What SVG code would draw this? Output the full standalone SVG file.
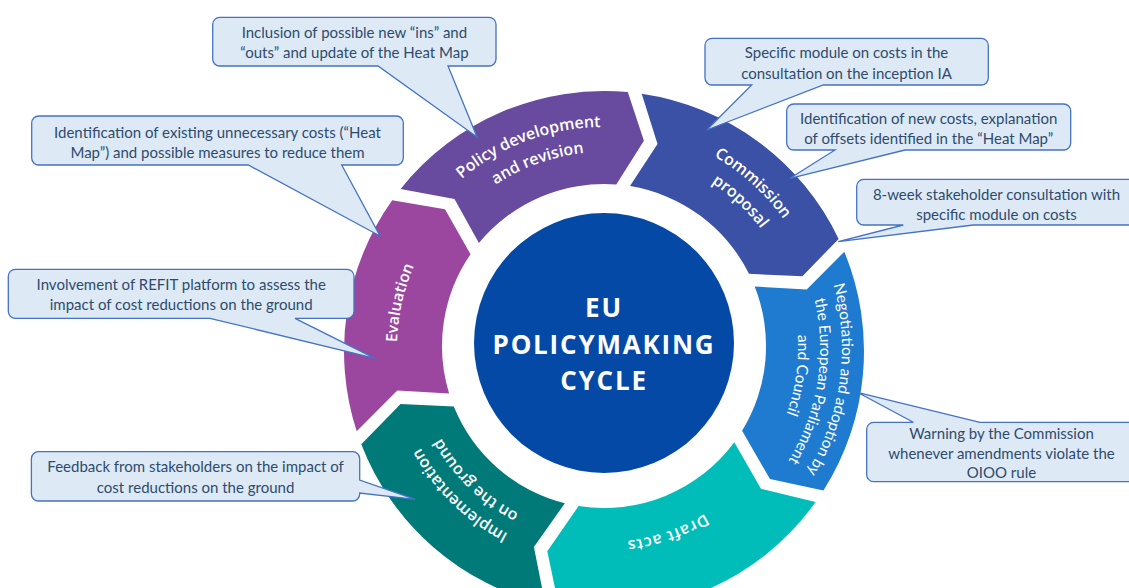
<svg xmlns="http://www.w3.org/2000/svg" width="1129" height="588" viewBox="0 0 1129 588">
<defs>
<style>
.seg-label { font-family: "Open Sans", "Noto Sans", sans-serif; font-weight: 600; font-size: 16px; fill: #ffffff; }
.seg-label.small { font-size: 15.5px; }
.neg-label { font-family: Lato, "Liberation Sans", sans-serif; font-size: 15.5px; fill: #ffffff; }
.bubble { fill: #DDEAF6; stroke: #4472C4; stroke-width: 1.3; }
.callout-text { font-family: Lato, "Liberation Sans", sans-serif; font-size: 15px; fill: #2F4A6D; text-anchor: middle; }
.center-text { font-family: "Open Sans", "Noto Sans", sans-serif; font-weight: 700; font-size: 26px; fill: #ffffff; text-anchor: middle; letter-spacing: 1.8px; }
</style>
<path id="arc-pol1" d="M383.0,349.9 A221,221 0 0 1 772.1,204.5"/>
<path id="arc-pol2" d="M408.0,347.0 A196,196 0 0 1 754.8,222.8"/>
<path id="arc-com1" d="M500.6,152.7 A221,221 0 0 1 808.8,431.1"/>
<path id="arc-com2" d="M514.3,172.6 A197,197 0 0 1 785.5,424.7"/>
<path id="arc-neg1" d="M715.7,137.9 A238,238 0 0 1 653.5,580.8"/>
<path id="arc-neg2" d="M709.4,159.4 A216,216 0 0 1 644.5,560.2"/>
<path id="arc-neg3" d="M695.1,176.7 A194,194 0 0 1 644.3,537.8"/>
<path id="arc-dra" d="M798.0,351.4 A194,194 0 0 1 453.2,470.1"/>
<path id="arc-imp1" d="M694.3,536.5 A209,209 0 0 1 413.7,261.7"/>
<path id="arc-imp2" d="M685.0,515.5 A186,186 0 0 1 434.4,271.8"/>
<path id="arc-eva" d="M492.8,522.6 A207,207 0 0 1 577.0,142.8"/>
</defs>
<rect x="0" y="0" width="1129" height="588" fill="#ffffff"/>

<g id="node-policy">
<path d="M400.6,189.0 A260,260 0 0 1 627.8,92.1 L643.9,140.8 L616.3,184.5 A162,162 0 0 0 478.9,243.1 L454.5,199.1 Z" fill="#684B9E"/>
<text class="seg-label"><textPath href="#arc-pol1" startOffset="50%" text-anchor="middle">Policy development</textPath></text>
<text class="seg-label"><textPath href="#arc-pol2" startOffset="50%" text-anchor="middle">and revision</textPath></text>
</g>

<g id="node-commission">
<path d="M641.7,93.7 A260,260 0 0 1 838.6,238.9 L802.4,276.2 L749.0,273.8 A162,162 0 0 0 630.0,186.1 L657.5,143.9 Z" fill="#3B51A6"/>
<text class="seg-label"><textPath href="#arc-com1" startOffset="50%" text-anchor="middle">Commission</textPath></text>
<text class="seg-label"><textPath href="#arc-com2" startOffset="50%" text-anchor="middle">proposal</textPath></text>
</g>

<g id="node-negotiation">
<path d="M844.3,251.7 A260,260 0 0 1 823.4,490.5 L770.0,479.0 L742.1,430.8 A162,162 0 0 0 754.7,286.5 L806.7,289.5 Z" fill="#1E7BCF"/>
<text class="neg-label"><textPath href="#arc-neg1" startOffset="50%" text-anchor="middle">Negotiation and adoption by</textPath></text>
<text class="neg-label"><textPath href="#arc-neg2" startOffset="50%" text-anchor="middle">the European Parliament</textPath></text>
<text class="neg-label"><textPath href="#arc-neg3" startOffset="50%" text-anchor="middle">and Council</textPath></text>
</g>

<g id="node-draft">
<path d="M815.6,502.1 A260,260 0 0 1 559.0,607.1 L547.3,551.2 L578.6,506.0 A162,162 0 0 0 734.3,442.3 L761.1,488.9 Z" fill="#00BDBA"/>
<text class="seg-label" letter-spacing="0.8"><textPath href="#arc-dra" startOffset="50%" text-anchor="middle">Draft acts</textPath></text>
</g>

<g id="node-implementation">
<path d="M545.3,604.3 A260,260 0 0 1 361.3,444.3 L400.6,404.0 L453.8,406.6 A162,162 0 0 0 564.9,503.2 L533.9,547.0 Z" fill="#007A79"/>
<text class="seg-label"><textPath href="#arc-imp1" startOffset="50%" text-anchor="middle">Implementation</textPath></text>
<text class="seg-label"><textPath href="#arc-imp2" startOffset="50%" text-anchor="middle">on the ground</textPath></text>
</g>

<g id="node-evaluation">
<path d="M356.7,431.2 A260,260 0 0 1 392.2,200.2 L445.0,209.3 L470.5,254.2 A162,162 0 0 0 449.1,393.4 L397.3,390.4 Z" fill="#9B479F"/>
<text class="seg-label small"><textPath href="#arc-eva" startOffset="50%" text-anchor="middle">Evaluation</textPath></text>
</g>

<g id="node-center">
<circle cx="604" cy="343" r="130" fill="#0449A5"/>
<text class="center-text" x="604" y="317">EU</text>
<text class="center-text" x="604" y="354">POLICYMAKING</text>
<text class="center-text" x="604" y="390">CYCLE</text>
</g>

<g id="connectors"></g>

<g id="callout-inclusion">
<path class="bubble" d="M219.7,17.3 H489 A7,7 0 0 1 496,24.3 V59 A7,7 0 0 1 489,66 H448 L477,137 L378,66 H219.7 A7,7 0 0 1 212.7,59 V24.3 A7,7 0 0 1 219.7,17.3 Z"/>
<text class="callout-text" x="354.4" y="37.5">Inclusion of possible new “ins” and</text>
<text class="callout-text" x="354.4" y="58">“outs” and update of the Heat Map</text>
</g>

<g id="callout-specific-module">
<path class="bubble" d="M712,38.3 H981.3 A7,7 0 0 1 988.3,45.3 V78 A7,7 0 0 1 981.3,85 H823.3 L706.7,130 L751.7,85 H712 A7,7 0 0 1 705,78 V45.3 A7,7 0 0 1 712,38.3 Z"/>
<text class="callout-text" x="846.5" y="58">Specific module on costs in the</text>
<text class="callout-text" x="846.5" y="78.5">consultation on the inception IA</text>
</g>

<g id="callout-new-costs">
<path class="bubble" d="M793.7,104 H1063.7 A7,7 0 0 1 1070.7,111 V143 A7,7 0 0 1 1063.7,150 H905 L790,178.3 L835,150 H793.7 A7,7 0 0 1 786.7,143 V111 A7,7 0 0 1 793.7,104 Z"/>
<text class="callout-text" x="928.7" y="123.5">Identification of new costs, explanation</text>
<text class="callout-text" x="928.7" y="143.5">of offsets identified in the “Heat Map”</text>
</g>

<g id="callout-8-week">
<path class="bubble" d="M863.7,179.3 H1129 A7,7 0 0 1 1136,186.3 V218 A7,7 0 0 1 1129,225 H973.3 L838.3,241.7 L903.3,225 H863.7 A7,7 0 0 1 856.7,218 V186.3 A7,7 0 0 1 863.7,179.3 Z"/>
<text class="callout-text" x="996.5" y="199.5">8-week stakeholder consultation with</text>
<text class="callout-text" x="996.5" y="219.5">specific module on costs</text>
</g>

<g id="callout-existing-costs">
<path class="bubble" d="M38.7,116 H396.3 A7,7 0 0 1 403.3,123 V158 A7,7 0 0 1 396.3,165 H341.7 L380,236 L248.3,165 H38.7 A7,7 0 0 1 31.7,158 V123 A7,7 0 0 1 38.7,116 Z"/>
<text class="callout-text" x="217.5" y="138">Identification of existing unnecessary costs (“Heat</text>
<text class="callout-text" x="217.5" y="157.5">Map”) and possible measures to reduce them</text>
</g>

<g id="callout-refit">
<path class="bubble" d="M15.3,269.3 H347 A7,7 0 0 1 354,276.3 V311.3 A7,7 0 0 1 347,318.3 H295 L375,358.3 L210,318.3 H15.3 A7,7 0 0 1 8.3,311.3 V276.3 A7,7 0 0 1 15.3,269.3 Z"/>
<text class="callout-text" x="181.2" y="289.5">Involvement of REFIT platform to assess the</text>
<text class="callout-text" x="181.2" y="309.5">impact of cost reductions on the ground</text>
</g>

<g id="callout-feedback">
<path class="bubble" d="M38.4,451.7 H352.7 A7,7 0 0 1 359.7,458.7 V480 L415.2,499.3 L359.7,493 V494 A7,7 0 0 1 352.7,501 H38.4 A7,7 0 0 1 31.4,494 V458.7 A7,7 0 0 1 38.4,451.7 Z"/>
<text class="callout-text" x="195.6" y="472">Feedback from stakeholders on the impact of</text>
<text class="callout-text" x="195.6" y="492.5">cost reductions on the ground</text>
</g>

<g id="callout-warning">
<path class="bubble" d="M873.7,422.3 H913.3 L858.3,392.7 L980,422.3 H1129 A7,7 0 0 1 1136,429.3 V474.7 A7,7 0 0 1 1129,481.7 H873.7 A7,7 0 0 1 866.7,474.7 V429.3 A7,7 0 0 1 873.7,422.3 Z"/>
<text class="callout-text" x="1001.5" y="438.5">Warning by the Commission</text>
<text class="callout-text" x="1001.5" y="458.5">whenever amendments violate the</text>
<text class="callout-text" x="1001.5" y="478">OIOO rule</text>
</g>
</svg>
